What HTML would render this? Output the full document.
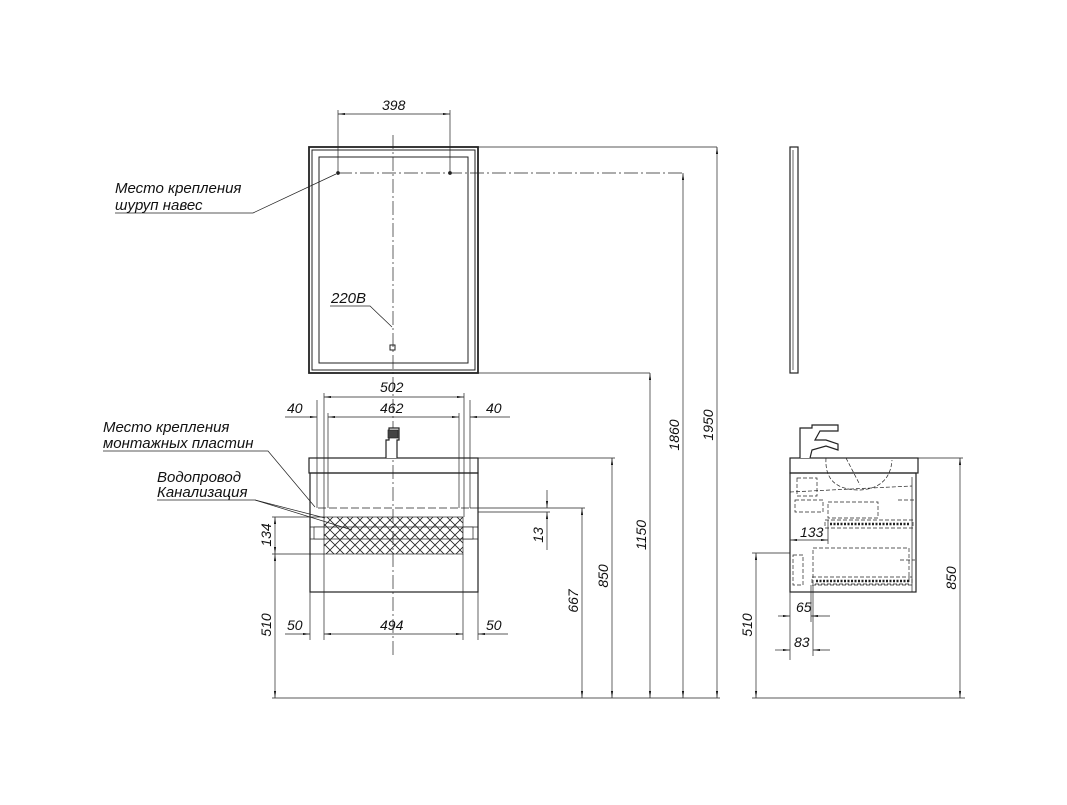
<!DOCTYPE html>
<html><head><meta charset="utf-8"><style>
html,body{margin:0;padding:0;background:#fff}
svg text{font-family:"Liberation Sans",sans-serif;font-style:italic;fill:#111}
</style></head><body>
<svg width="1067" height="800" viewBox="0 0 1067 800" xmlns="http://www.w3.org/2000/svg">
<defs>
<marker id="a" viewBox="0 0 10 6" refX="10" refY="3" markerWidth="10" markerHeight="6" orient="auto-start-reverse"><path d="M0,1.5 L10,3 L0,4.5z" fill="#111"/></marker>
<pattern id="h" width="10" height="10" patternUnits="userSpaceOnUse"><path d="M0,0 L10,10 M10,0 L0,10" stroke="#222" stroke-width="0.8"/></pattern>
</defs>
<g stroke="#222" fill="none" stroke-width="0.7">
<rect x="309" y="147" width="169" height="226" stroke-width="1.8"/>
<rect x="312" y="150" width="163" height="220" stroke-width="1"/>
<rect x="319" y="157" width="149" height="206" stroke-width="1"/>
<line x1="393" y1="135" x2="393" y2="655" stroke-dasharray="14,3,2,3"/>
<line x1="338" y1="173" x2="683" y2="173" stroke-dasharray="14,3,2,3"/>
<line x1="478" y1="147" x2="717" y2="147"/>
<line x1="478" y1="373" x2="650" y2="373"/>
<line x1="338" y1="110" x2="338" y2="173"/><line x1="450" y1="110" x2="450" y2="173"/>
<line x1="338" y1="114" x2="450" y2="114" marker-start="url(#a)" marker-end="url(#a)"/>
<circle cx="338" cy="173" r="1.5" fill="#222"/><circle cx="450" cy="173" r="1.5" fill="#222"/>
<polyline points="115,213 253,213 336,174"/>
<polyline points="330,306 370,306 392,327"/>
<rect x="390" y="345" width="5" height="5" stroke-width="1"/>
<line x1="717" y1="147" x2="717" y2="698" marker-start="url(#a)" marker-end="url(#a)"/>
<line x1="683" y1="173" x2="683" y2="698" marker-start="url(#a)" marker-end="url(#a)"/>
<line x1="650" y1="373" x2="650" y2="698" marker-start="url(#a)" marker-end="url(#a)"/>
<line x1="612" y1="458" x2="612" y2="698" marker-start="url(#a)" marker-end="url(#a)"/>
<line x1="582" y1="508" x2="582" y2="698" marker-start="url(#a)" marker-end="url(#a)"/>
<line x1="272" y1="698" x2="720" y2="698"/>
<rect x="309" y="458" width="169" height="15" stroke-width="1.2"/>
<rect x="310" y="473" width="168" height="119" stroke-width="1.2"/>
<line x1="478" y1="458" x2="615" y2="458"/>
<path d="M386,458 L386,440 L389,440 L389,428 L399,428 L399,440 L397,440 L397,458" stroke-width="1.2" fill="#fff"/>
<rect x="388" y="430" width="10" height="8" fill="#444"/>
<rect x="324" y="517" width="139" height="37" fill="url(#h)"/>
<line x1="310" y1="527" x2="478" y2="527"/><line x1="310" y1="539" x2="478" y2="539"/>
<rect x="314" y="527" width="10" height="12" fill="#fff"/><rect x="463" y="527" width="10" height="12" fill="#fff"/>
<line x1="318" y1="508" x2="470" y2="508" stroke-dasharray="8,3"/>
<line x1="470" y1="508" x2="585" y2="508"/>
<line x1="478" y1="512" x2="550" y2="512"/>
<line x1="547" y1="490" x2="547" y2="508" marker-end="url(#a)"/>
<line x1="547" y1="512" x2="547" y2="550" marker-start="url(#a)"/>
<line x1="272" y1="517" x2="324" y2="517"/><line x1="272" y1="554" x2="324" y2="554"/>
<line x1="275" y1="517" x2="275" y2="554" marker-start="url(#a)" marker-end="url(#a)"/>
<line x1="275" y1="554" x2="275" y2="698" marker-start="url(#a)" marker-end="url(#a)"/>
<line x1="317" y1="400" x2="317" y2="508"/><line x1="324" y1="393" x2="324" y2="517"/>
<line x1="328" y1="413" x2="328" y2="508"/><line x1="459" y1="413" x2="459" y2="508"/>
<line x1="464" y1="393" x2="464" y2="517"/><line x1="470" y1="400" x2="470" y2="508"/>
<line x1="324" y1="397" x2="464" y2="397" marker-start="url(#a)" marker-end="url(#a)"/>
<line x1="328" y1="417" x2="459" y2="417" marker-start="url(#a)" marker-end="url(#a)"/>
<line x1="285" y1="417" x2="317" y2="417" marker-end="url(#a)"/>
<line x1="470" y1="417" x2="510" y2="417" marker-start="url(#a)"/>
<line x1="310" y1="592" x2="310" y2="640"/><line x1="324" y1="554" x2="324" y2="640"/>
<line x1="463" y1="554" x2="463" y2="640"/><line x1="478" y1="592" x2="478" y2="640"/>
<line x1="324" y1="634" x2="463" y2="634" marker-start="url(#a)" marker-end="url(#a)"/>
<line x1="285" y1="634" x2="310" y2="634" marker-end="url(#a)"/>
<line x1="478" y1="634" x2="508" y2="634" marker-start="url(#a)"/>
<polyline points="103,451 268,451 315,507"/>
<polyline points="157,500 255,500 325,518"/>
<line x1="255" y1="500" x2="352" y2="530"/>
<rect x="790" y="147" width="8" height="226" stroke-width="1.2"/>
<line x1="793" y1="150" x2="793" y2="370"/>
<rect x="790" y="458" width="128" height="15" stroke-width="1.2"/>
<rect x="790" y="473" width="126" height="119" stroke-width="1.2"/>
<line x1="912" y1="477" x2="912" y2="592"/>
<line x1="918" y1="458" x2="963" y2="458"/>
<path d="M800,458 L800,428 L812,428 L812,425 L838,425 L838,431 L820,431 L815,440 L826,440 L838,444 L838,450 L826,446 L812,450 L810,458" stroke-width="1.2" fill="#fff"/>
<g stroke-dasharray="4,2">
<path d="M826,458 Q824,490 860,490 Q890,488 892,460"/>
<path d="M846,458 L860,485"/>
<rect x="797" y="478" width="20" height="18"/>
<rect x="795" y="500" width="28" height="12"/>
<rect x="828" y="502" width="50" height="16"/>
<rect x="825" y="520" width="88" height="8"/>
<rect x="813" y="548" width="96" height="36"/>
<rect x="812" y="577" width="100" height="8"/>
<rect x="793" y="555" width="10" height="30"/>
<line x1="790" y1="492" x2="912" y2="486"/>
<line x1="898" y1="500" x2="915" y2="500"/>
<line x1="900" y1="560" x2="915" y2="560"/>
</g>
<g stroke="#222" stroke-width="2.5" stroke-dasharray="2,1.5"><line x1="830" y1="524" x2="910" y2="524"/><line x1="816" y1="581" x2="910" y2="581"/></g>
<line x1="960" y1="458" x2="960" y2="698" marker-start="url(#a)" marker-end="url(#a)"/>
<line x1="752" y1="698" x2="965" y2="698"/>
<line x1="752" y1="553" x2="790" y2="553"/>
<line x1="756" y1="553" x2="756" y2="698" marker-start="url(#a)" marker-end="url(#a)"/>
<line x1="790" y1="540" x2="790" y2="660"/>
<line x1="828" y1="520" x2="828" y2="544"/>
<line x1="790" y1="540" x2="828" y2="540" marker-start="url(#a)" marker-end="url(#a)"/>
<line x1="811" y1="585" x2="811" y2="622"/>
<line x1="813" y1="585" x2="813" y2="656"/>
<line x1="778" y1="616" x2="790" y2="616" marker-end="url(#a)"/>
<line x1="811" y1="616" x2="830" y2="616" marker-start="url(#a)"/>
<line x1="775" y1="650" x2="790" y2="650" marker-end="url(#a)"/>
<line x1="813" y1="650" x2="830" y2="650" marker-start="url(#a)"/>
</g>
<g font-size="15">
<text x="115" y="193">Место крепления</text>
<text x="115" y="210">шуруп навес</text>
<text x="103" y="432">Место крепления</text>
<text x="103" y="448">монтажных пластин</text>
<text x="157" y="482">Водопровод</text>
<text x="157" y="497">Канализация</text>
<text x="331" y="303">220В</text>
</g>
<g font-size="14">
<text x="382" y="110">398</text>
<text x="380" y="392">502</text>
<text x="380" y="413">462</text>
<text x="287" y="413">40</text>
<text x="486" y="413">40</text>
<text x="380" y="630">494</text>
<text x="287" y="630">50</text>
<text x="486" y="630">50</text>
<text x="800" y="537">133</text>
<text x="796" y="612">65</text>
<text x="794" y="647">83</text>
<text transform="translate(713,425) rotate(-90)" text-anchor="middle">1950</text>
<text transform="translate(679,435) rotate(-90)" text-anchor="middle">1860</text>
<text transform="translate(646,535) rotate(-90)" text-anchor="middle">1150</text>
<text transform="translate(608,576) rotate(-90)" text-anchor="middle">850</text>
<text transform="translate(578,601) rotate(-90)" text-anchor="middle">667</text>
<text transform="translate(543,535) rotate(-90)" text-anchor="middle">13</text>
<text transform="translate(271,535) rotate(-90)" text-anchor="middle">134</text>
<text transform="translate(271,625) rotate(-90)" text-anchor="middle">510</text>
<text transform="translate(956,578) rotate(-90)" text-anchor="middle">850</text>
<text transform="translate(752,625) rotate(-90)" text-anchor="middle">510</text>
</g>
</svg>
</body></html>
